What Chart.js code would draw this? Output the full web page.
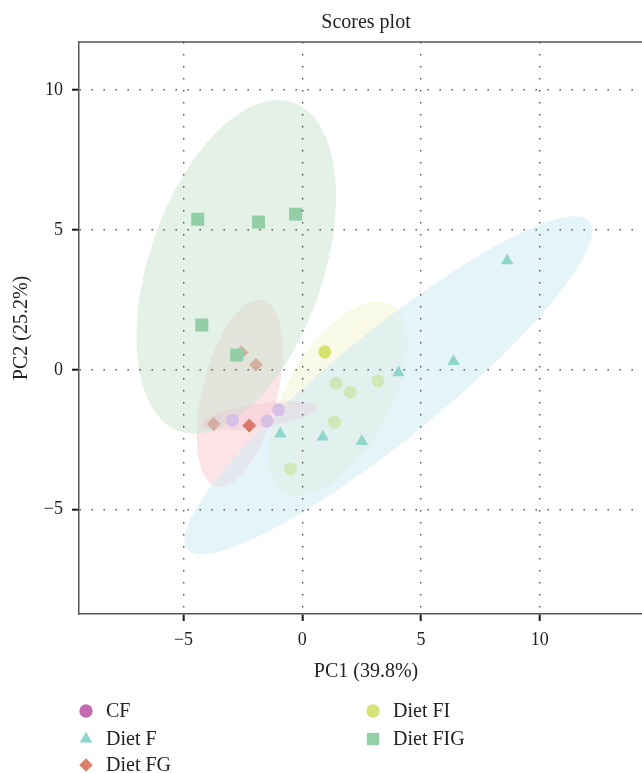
<!DOCTYPE html>
<html>
<head>
<meta charset="utf-8">
<title>Scores plot</title>
<script src="https://cdn.jsdelivr.net/npm/chart.js@4.4.1/dist/chart.umd.min.js"></script>
<style>
  html, body { margin: 0; padding: 0; background: #fff; overflow: hidden; }
  /* the plot frame runs a little past the right edge of the window, as in the original */
  #wrap { width: 653px; height: 773px; }
</style>
</head>
<body>
<div id="wrap"><canvas id="scores"></canvas></div>
<script>
// Groups, in legend order
const groups = ['CF', 'Diet F', 'Diet FG', 'Diet FI', 'Diet FIG'];

// PC1 / PC2 scores
const cfPC1 = [-2.93, -1.48, -1.00];
const cfPC2 = [-1.81, -1.83, -1.43];
const dietFPC1 = [8.63, 6.37, 4.05, 0.87, 2.51, -0.92];
const dietFPC2 = [3.90, 0.30, -0.10, -2.40, -2.56, -2.29];
const dietFGPC1 = [-2.56, -1.95, -3.73, -2.23];
const dietFGPC2 = [0.62, 0.18, -1.94, -1.99];
const dietFIPC1 = [0.95, 1.43, 2.02, 3.19, 1.36, -0.49];
const dietFIPC2 = [0.64, -0.48, -0.80, -0.40, -1.87, -3.54];
const dietFIGPC1 = [-4.40, -1.84, -0.28, -4.23, -2.76];
const dietFIGPC2 = [5.38, 5.28, 5.56, 1.60, 0.53];

// Confidence ellipse of each group: centre, half extent on each axis, correlation
const ellipseCx = [-1.81, 3.63, -2.63, 1.50, -2.78];
const ellipseCy = [-1.64, -0.55, -0.84, -1.03, 3.68];
const ellipseSx = [2.42, 8.59, 1.81, 2.93, 4.20];
const ellipseSy = [0.52, 6.04, 3.34, 3.47, 5.96];
const ellipseR = [0.57, 0.915, 0.45, 0.57, 0.42];

const xTicks = [-5, 0, 5, 10];
const yTicks = [-5, 0, 5, 10];

// Styles
const FONT = "'Liberation Serif', 'Times New Roman', serif";
const pointColors = ['rgb(214,192,228)', 'rgb(143,214,204)', 'rgb(217,115,95)', 'rgb(213,227,110)', 'rgb(146,207,166)'];
const legendColors = ['#c46cb1', '#8fd6cc', '#dd7f6b', '#d5e37a', '#93d0a5'];
const ellipseFills = ['rgba(235,150,190,0.16)', 'rgba(208,235,244,0.55)', 'rgba(250,204,208,0.55)', 'rgba(242,244,210,0.55)', 'rgba(204,230,211,0.55)'];
const pointStyles = ['circle', 'triangle', 'rectRot', 'circle', 'rect'];
const pointSizes = [6.5, 7.2, 7, 6.5, 9.2];
const legendSizes = [6.7, 7.2, 6.8, 6.7, 8.7];
// FG, FI, F, FIG, then CF on top
const drawOrder = [1, 3, 5, 4, 2];

const pc1 = [cfPC1, dietFPC1, dietFGPC1, dietFIPC1, dietFIGPC1];
const pc2 = [cfPC2, dietFPC2, dietFGPC2, dietFIPC2, dietFIGPC2];

const datasets = groups.map((name, i) => ({
  label: name,
  data: pc1[i].map((v, j) => ({ x: v, y: pc2[i][j] })),
  order: drawOrder[i],
  pointStyle: pointStyles[i],
  pointRadius: pointSizes[i],
  pointHoverRadius: pointSizes[i],
  pointBackgroundColor: pointColors[i],
  pointBorderWidth: 0
}));

function fmtTick(v) {
  return v < 0 ? '\u2212' + Math.abs(v) : String(v);
}

// Fill one group's ellipse, through the chart scales
function drawEllipse(chart, i) {
  const { ctx, chartArea, scales } = chart;
  const k = Math.sqrt(1 - ellipseR[i] * ellipseR[i]);
  ctx.save();
  ctx.beginPath();
  ctx.rect(chartArea.left, chartArea.top, chartArea.right - chartArea.left, chartArea.bottom - chartArea.top);
  ctx.clip();
  ctx.beginPath();
  const n = 160;
  for (let s = 0; s <= n; s++) {
    const t = (s / n) * Math.PI * 2;
    const vx = ellipseCx[i] + ellipseSx[i] * Math.cos(t);
    const vy = ellipseCy[i] + ellipseSy[i] * (ellipseR[i] * Math.cos(t) + k * Math.sin(t));
    const px = scales.x.getPixelForValue(vx);
    const py = scales.y.getPixelForValue(vy);
    if (s === 0) ctx.moveTo(px, py); else ctx.lineTo(px, py);
  }
  ctx.closePath();
  ctx.fillStyle = ellipseFills[i];
  ctx.fill();
  ctx.restore();
}

const ellipsePlugin = {
  id: 'ellipses',
  beforeDatasetDraw(chart, args) {
    drawEllipse(chart, args.index);
  },
  afterDraw(chart) {
    const { ctx, chartArea } = chart;
    // top frame line
    ctx.save();
    ctx.strokeStyle = '#555';
    ctx.lineWidth = 1.5;
    ctx.beginPath();
    ctx.moveTo(chartArea.left, chartArea.top);
    ctx.lineTo(chartArea.right, chartArea.top);
    ctx.stroke();

    // legend in two columns
    const cols = [[0, 1, 2], [3, 4]];
    const colX = [chartArea.left + 7, chartArea.left + 294];
    const rowY = [97, 125, 151];
    ctx.font = '20px ' + FONT;
    ctx.textBaseline = 'middle';
    ctx.textAlign = 'left';
    cols.forEach((col, c) => {
      col.forEach((g, r) => {
        const x = colX[c];
        const y = chartArea.bottom + rowY[r];
        ctx.fillStyle = legendColors[g];
        Chart.helpers.drawPoint(ctx, { pointStyle: pointStyles[g], radius: legendSizes[g], rotation: 0, borderWidth: 0 }, x, y);
        ctx.fillStyle = '#222';
        ctx.fillText(groups[g], x + 20, y + 1);
      });
    });
    ctx.restore();
  }
};

const gridOpts = {
  color: 'rgba(60,60,60,0.9)',
  lineWidth: 1.4,
  z: 1,
  drawTicks: true,
  tickLength: 7,
  tickColor: '#1a1a1a',
  tickWidth: 2,
  tickBorderDash: []
};
const borderOpts = { display: true, color: '#555', width: 1.5, dash: [1.4, 10.6], z: 1 };

new Chart(document.getElementById('scores'), {
  type: 'scatter',
  data: { datasets },
  options: {
    responsive: true,
    maintainAspectRatio: false,
    animation: false,
    events: [],
    layout: { autoPadding: false, padding: { left: 0, right: 0, top: 0, bottom: 79 } },
    plugins: {
      legend: { display: false },
      tooltip: { enabled: false },
      title: {
        display: true,
        text: 'Scores plot',
        fullSize: false,
        color: '#222',
        font: { family: FONT, size: 20, weight: 'normal' },
        padding: { top: 11, bottom: 7 }
      }
    },
    scales: {
      x: {
        type: 'linear',
        min: -9.40,
        max: 14.77,
        afterBuildTicks: s => { s.ticks = xTicks.map(v => ({ value: v })); },
        afterFit: s => { s.height = 80; s.paddingLeft = 0; s.paddingRight = 0; },
        ticks: { callback: fmtTick, color: '#222', font: { family: FONT, size: 18 }, padding: 8, maxRotation: 0, autoSkip: false },
        grid: gridOpts,
        border: borderOpts,
        title: { display: true, text: 'PC1 (39.8%)', color: '#222', font: { family: FONT, size: 20 }, padding: { top: 0, bottom: 10.6 } }
      },
      y: {
        type: 'linear',
        min: -8.725,
        max: 11.714,
        afterBuildTicks: s => { s.ticks = yTicks.map(v => ({ value: v })); },
        afterFit: s => { s.width = 79; s.paddingTop = 0; s.paddingBottom = 0; },
        ticks: { callback: fmtTick, color: '#222', font: { family: FONT, size: 18 }, padding: 9, autoSkip: false },
        grid: gridOpts,
        border: borderOpts,
        title: { display: true, text: 'PC2 (25.2%)', color: '#222', font: { family: FONT, size: 20 }, padding: { top: 10, bottom: 0 } }
      }
    }
  },
  plugins: [ellipsePlugin]
});
</script>
</body>
</html>
